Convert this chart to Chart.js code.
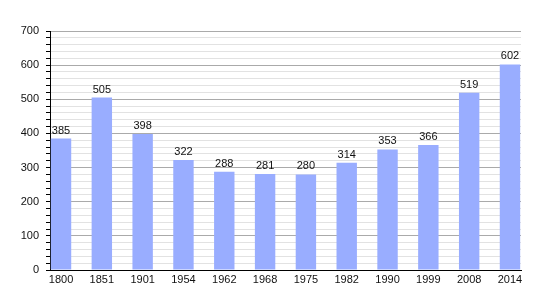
<!DOCTYPE html>
<html>
<head>
<meta charset="utf-8">
<script src="https://cdn.jsdelivr.net/npm/chart.js@4"></script>
<style>
  html, body { margin: 0; padding: 0; background: #fff; }
  #wrap { width: 550px; height: 300px; }
</style>
</head>
<body>
<div id="wrap"><canvas id="myChart" width="550" height="300"></canvas></div>
<script>
const years = ['1800', '1851', '1901', '1954', '1962', '1968', '1975', '1982', '1990', '1999', '2008', '2014'];
const population = [385, 505, 398, 322, 288, 281, 280, 314, 353, 366, 519, 602];
const yTicks = [0, 100, 200, 300, 400, 500, 600, 700];

// values written on top of each bar
const barLabels = {
    id: 'barLabels',
    afterDatasetsDraw(chart) {
        const c = chart.ctx;
        const meta = chart.getDatasetMeta(0);
        c.save();
        c.font = '11px "Liberation Sans", Arial, sans-serif';
        c.fillStyle = '#111';
        c.textAlign = 'center';
        c.textBaseline = 'alphabetic';
        meta.data.forEach((bar, i) => {
            c.fillText(population[i], bar.x, bar.y - 5);
        });
        c.restore();
    }
};

const ctx = document.getElementById('myChart').getContext('2d');
const chart = new Chart(ctx, {
    type: 'bar',
    data: {
        datasets: [{
            data: population.map((v, i) => ({ x: i, y: v })),
            backgroundColor: '#99adff',
            borderWidth: 0,
            barPercentage: 0.5,
            categoryPercentage: 1
        }]
    },
    options: {
        responsive: false,
        animation: false,
        layout: { padding: { top: 31, right: 29, left: 0, bottom: 0 } },
        plugins: { legend: { display: false }, tooltip: { enabled: false } },
        scales: {
            x: {
                type: 'linear',
                offset: false,
                min: -0.27,
                max: 11.27,
                grid: { display: false, drawTicks: false, tickLength: 0 },
                border: { color: '#000', width: 1 },
                afterFit: s => { s.height = 30; },
                ticks: {
                    stepSize: 1,
                    includeBounds: false,
                    autoSkip: false,
                    maxRotation: 0,
                    padding: 3,
                    color: '#111',
                    font: { family: '"Liberation Sans", Arial, sans-serif', size: 11 },
                    callback: v => Number.isInteger(v) && years[v] ? years[v] : ''
                }
            },
            y: {
                min: 0,
                max: 700,
                afterFit: s => { s.width = 50; },
                border: { color: '#000', width: 1 },
                grid: {
                    color: c => (yTicks.includes(c.tick.value) ? '#aaaaaa' : '#e2e2e2'),
                    tickColor: '#000',
                    tickLength: 4
                },
                ticks: {
                    stepSize: 20,
                    autoSkip: false,
                    padding: 7,
                    color: '#111',
                    font: { family: '"Liberation Sans", Arial, sans-serif', size: 11 },
                    callback: v => (yTicks.includes(v) ? v : '')
                }
            }
        }
    },
    plugins: [barLabels]
});
</script>
</body>
</html>
